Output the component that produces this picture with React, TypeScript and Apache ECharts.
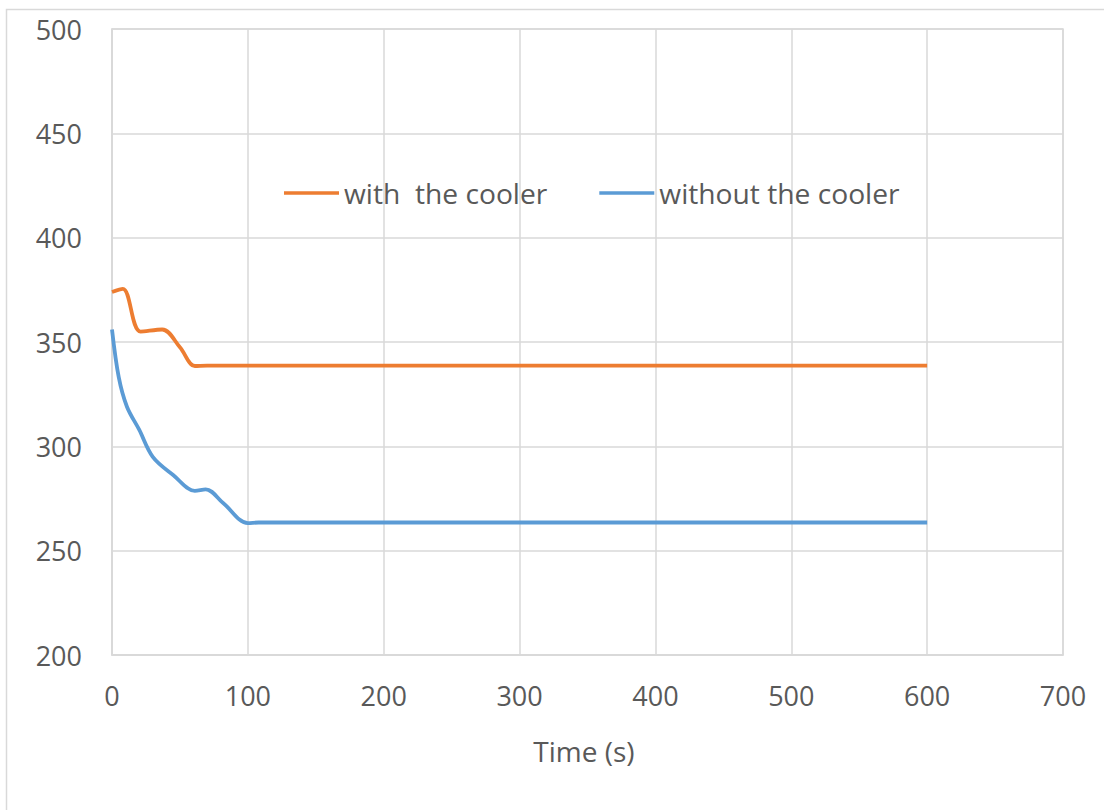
import React, { useEffect, useRef } from "react";
import * as echarts from "echarts";

// Temperature over time, with and without the cooler
const timeWith = [0, 8, 21, 37, 50, 61, 70, 100, 200, 300, 400, 500, 600];
const tempWith = [374, 375.5, 355, 356, 347.5, 338.5, 338.7, 338.7, 338.7, 338.7, 338.7, 338.7, 338.7];

const timeWithout = [0, 5, 11, 20, 30, 45, 61, 69, 82, 100, 108, 200, 300, 400, 500, 600];
const tempWithout = [356, 333, 319, 308, 295, 286.3, 278.7, 279.4, 272.7, 263.2, 263.5, 263.5, 263.5, 263.5, 263.5, 263.5];

const seriesNames = ["with  the cooler", "without the cooler"];
const xTicks = { min: 0, max: 700, interval: 100 };
const yTicks = { min: 200, max: 500, interval: 50 };

const FONT = "'Open Sans', sans-serif";
const TEXT = "#595959";
const GRID = "#d9d9d9";

export default function App() {
  const ref = useRef<HTMLDivElement>(null);

  useEffect(() => {
    if (!ref.current) return;
    const chart = echarts.init(ref.current, undefined, { renderer: "svg" });
    const pairs = (xs: number[], ys: number[]) => xs.map((x, i) => [x, ys[i]]);
    chart.setOption({
      animation: false,
      backgroundColor: "#ffffff",
      textStyle: { fontFamily: FONT },
      graphic: [
        {
          type: "rect",
          shape: { x: 6.5, y: 9.5, width: 1300, height: 1000 },
          style: { fill: "none", stroke: GRID, lineWidth: 1.5 },
          silent: true,
        },
      ],
      grid: {
        left: 112,
        top: 29,
        width: 951,
        height: 626,
        show: true,
        borderColor: GRID,
        borderWidth: 1.5,
        containLabel: false,
      },
      legend: {
        left: 279,
        top: 174,
        icon: "rect",
        itemWidth: 55,
        itemHeight: 3.5,
        itemGap: 52,
        textStyle: { fontFamily: FONT, fontSize: 28.2, color: TEXT },
        data: seriesNames,
      },
      xAxis: {
        type: "value",
        ...xTicks,
        name: "Time (s)",
        nameLocation: "middle",
        nameGap: 82,
        nameTextStyle: { fontFamily: FONT, fontSize: 28, color: TEXT, padding: [0, 7, 0, 0] },
        axisLine: { show: true, lineStyle: { color: GRID, width: 1.5 } },
        axisTick: { show: false },
        axisLabel: { fontFamily: FONT, fontSize: 27, color: TEXT, margin: 27 },
        splitLine: { show: true, lineStyle: { color: GRID, width: 1.5 } },
      },
      yAxis: {
        type: "value",
        ...yTicks,
        axisLine: { show: true, lineStyle: { color: GRID, width: 1.5 } },
        axisTick: { show: false },
        axisLabel: { fontFamily: FONT, fontSize: 27, color: TEXT, margin: 30 },
        splitLine: { show: true, lineStyle: { color: GRID, width: 1.5 } },
      },
      series: [
        {
          name: seriesNames[0],
          type: "line",
          data: pairs(timeWith, tempWith),
          smooth: 0.35,
          showSymbol: false,
          color: "#ED7D31",
          lineStyle: { width: 3.8, color: "#ED7D31" },
        },
        {
          name: seriesNames[1],
          type: "line",
          data: pairs(timeWithout, tempWithout),
          smooth: 0.35,
          showSymbol: false,
          color: "#5B9BD5",
          lineStyle: { width: 3.8, color: "#5B9BD5" },
        },
      ],
    });
    return () => chart.dispose();
  }, []);

  return (
    <div
      ref={ref}
      style={{ position: "absolute", left: 0, top: 0, width: 1104, height: 810 }}
    />
  );
}
